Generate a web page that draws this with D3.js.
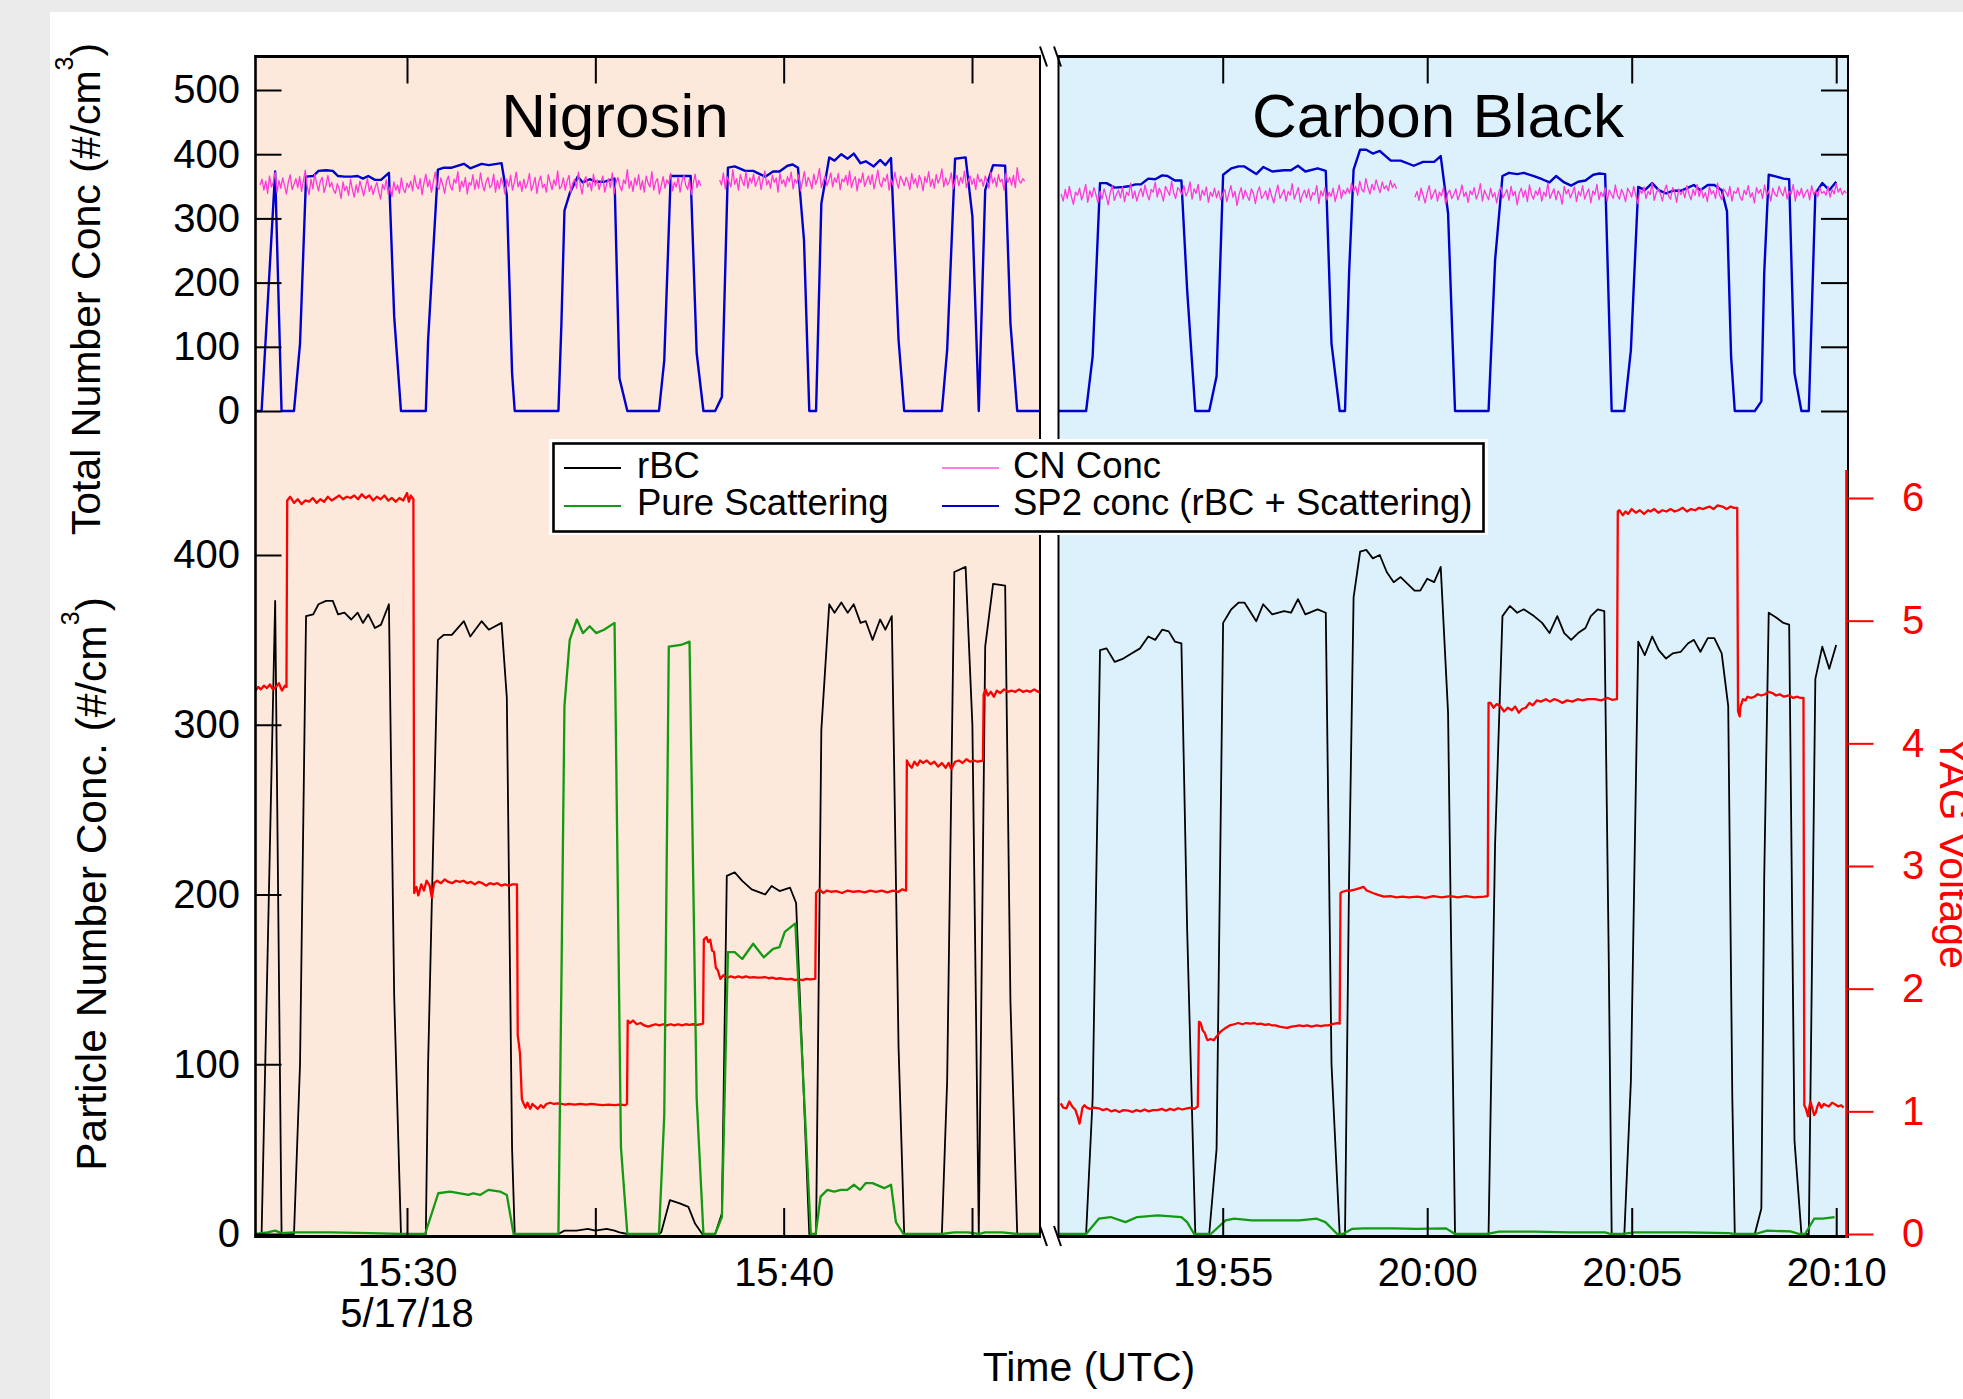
<!DOCTYPE html>
<html><head><meta charset="utf-8">
<script src="https://cdn.jsdelivr.net/npm/d3@7"></script>
<style>
html,body{margin:0;padding:0;background:#ebebeb;overflow:hidden;}
svg{display:block;}
text{font-family:"Liberation Sans",Arial,Helvetica,sans-serif;}
</style></head><body>
<svg id="chart" width="1963" height="1399"></svg>
<script>
// ---------- DATA (time = minutes after the hour: Nigrosin 15:xx, Carbon Black 19:xx) ----------
const nigSp2 = [[25.98,0],[26.14,0],[26.50,373],[26.67,0],[27.00,0],[27.16,105],[27.32,365],[27.51,366],[27.65,374],[27.85,375],[28.03,374],[28.17,366],[28.34,365],[28.52,365],[28.69,366],[28.83,362],[28.97,366],[29.15,360],[29.31,360],[29.52,371],[29.66,147],[29.84,0],[30.50,0],[30.56,110],[30.82,376],[30.98,379],[31.19,379],[31.51,385],[31.68,378],[31.98,385],[32.17,383],[32.51,386],[32.65,336],[32.79,59],[32.86,0],[34.02,0],[34.10,137],[34.18,312],[34.32,339],[34.53,365],[34.67,356],[34.85,361],[35.02,357],[35.23,357],[35.51,362],[35.64,51],[35.85,0],[36.69,0],[36.83,79],[37.00,366],[37.53,366],[37.69,90],[37.87,0],[38.18,0],[38.36,22],[38.52,379],[38.70,381],[38.98,374],[39.19,374],[39.51,365],[39.72,373],[39.89,373],[40.10,382],[40.24,384],[40.38,379],[40.54,266],[40.68,0],[40.86,0],[41.00,323],[41.21,395],[41.35,390],[41.53,400],[41.70,393],[41.86,401],[42.04,386],[42.18,389],[42.39,381],[42.56,391],[42.70,383],[42.85,394],[43.05,111],[43.20,0],[44.20,0],[44.34,95],[44.55,393],[44.83,395],[45.01,303],[45.18,0],[45.35,344],[45.56,383],[45.88,382],[46.02,137],[46.20,0],[46.88,0]];
const nigRbc = [[25.98,0],[26.14,0],[26.50,373],[26.67,0],[27.00,0],[27.16,100],[27.32,364],[27.51,365],[27.65,371],[27.85,373],[28.03,373],[28.17,365],[28.34,366],[28.52,362],[28.69,366],[28.83,360],[28.97,365],[29.15,357],[29.31,359],[29.52,371],[29.66,140],[29.84,0],[30.50,0],[30.56,100],[30.82,350],[30.98,353],[31.19,353],[31.51,361],[31.68,352],[31.98,361],[32.17,356],[32.51,360],[32.65,316],[32.79,50],[32.86,0],[34.02,0],[34.18,2],[34.50,2],[34.80,3],[35.00,2],[35.30,3],[35.51,2],[35.64,1],[35.85,0],[36.69,0],[36.75,1],[36.98,20],[37.24,18],[37.47,16],[37.65,6],[37.84,0],[38.18,0],[38.36,12],[38.49,211],[38.70,213],[38.90,208],[39.15,203],[39.51,200],[39.68,205],[39.89,202],[40.17,204],[40.33,195],[40.54,79],[40.68,0],[40.86,0],[41.00,297],[41.21,371],[41.35,366],[41.53,372],[41.70,366],[41.86,371],[42.04,360],[42.18,361],[42.36,350],[42.56,362],[42.70,356],[42.87,364],[43.05,110],[43.20,0],[44.20,0],[44.34,90],[44.53,390],[44.83,393],[45.01,300],[45.18,0],[45.35,346],[45.56,383],[45.88,382],[46.02,137],[46.20,0],[46.88,0]];
const nigScat = [[25.98,0],[26.30,1],[26.50,2],[26.67,0.5],[27.00,1],[28.00,1],[29.00,0.5],[29.84,0],[30.48,0],[30.83,24],[31.14,25],[31.41,24],[31.63,23],[31.76,24],[31.94,23],[32.16,26],[32.47,25],[32.65,23],[32.83,0],[34.02,0],[34.10,150],[34.18,311],[34.32,350],[34.51,362],[34.67,354],[34.85,358],[35.02,354],[35.23,356],[35.51,360],[35.68,51],[35.85,0],[36.69,0],[36.83,70],[36.95,346],[37.27,347],[37.50,349],[37.69,80],[37.87,0],[38.18,0],[38.36,10],[38.52,166],[38.70,166],[38.90,162],[39.19,171],[39.47,163],[39.72,168],[39.89,169],[40.03,178],[40.31,183],[40.50,100],[40.72,0],[40.85,0],[40.98,22],[41.16,26],[41.34,25],[41.52,26],[41.69,26],[41.87,29],[42.03,26],[42.18,30],[42.36,30],[42.67,27],[42.85,29],[42.98,7],[43.18,0],[44.20,0],[44.53,1],[44.90,1],[45.18,0],[45.35,1],[45.80,1],[46.20,0],[46.88,0]];
const nigYag = [[25.98,4.43],[26.05,4.46],[26.12,4.44],[26.20,4.47],[26.28,4.45],[26.36,4.48],[26.44,4.44],[26.52,4.46],[26.60,4.49],[26.68,4.43],[26.76,4.47],[26.80,4.46],[26.82,5.98],[26.90,6.01],[27.00,5.96],[27.10,5.99],[27.20,5.95],[27.30,5.98],[27.40,5.97],[27.50,6.00],[27.60,5.96],[27.70,5.99],[27.80,5.97],[27.90,6.01],[28.00,5.98],[28.10,6.00],[28.20,6.02],[28.30,5.99],[28.40,6.01],[28.50,6.00],[28.60,6.02],[28.70,5.99],[28.80,6.03],[28.90,6.00],[29.00,6.02],[29.10,5.98],[29.20,6.01],[29.30,5.99],[29.40,6.02],[29.50,5.98],[29.60,6.00],[29.70,5.97],[29.80,6.00],[29.90,5.98],[30.00,6.04],[30.05,5.97],[30.10,6.02],[30.17,5.99],[30.19,2.78],[30.25,2.83],[30.30,2.76],[30.38,2.85],[30.45,2.80],[30.52,2.88],[30.60,2.84],[30.66,2.74],[30.72,2.86],[30.80,2.88],[30.90,2.86],[31.00,2.89],[31.10,2.87],[31.20,2.86],[31.30,2.88],[31.40,2.87],[31.50,2.88],[31.60,2.86],[31.70,2.87],[31.80,2.85],[31.90,2.87],[32.00,2.86],[32.10,2.84],[32.20,2.86],[32.30,2.85],[32.40,2.86],[32.50,2.84],[32.60,2.85],[32.70,2.84],[32.80,2.85],[32.92,2.85],[32.94,1.62],[32.97,1.55],[33.00,1.47],[33.05,1.10],[33.10,1.06],[33.15,1.03],[33.20,1.07],[33.27,1.02],[33.33,1.06],[33.40,1.04],[33.47,1.02],[33.55,1.05],[33.62,1.03],[33.70,1.06],[33.80,1.07],[33.90,1.06],[34.00,1.065],[34.10,1.06],[34.20,1.055],[34.30,1.06],[34.45,1.055],[34.60,1.06],[34.75,1.055],[34.90,1.06],[35.05,1.055],[35.20,1.05],[35.35,1.055],[35.50,1.05],[35.65,1.055],[35.80,1.05],[35.84,1.06],[35.86,1.74],[35.92,1.72],[36.00,1.74],[36.10,1.71],[36.20,1.72],[36.30,1.70],[36.40,1.69],[36.50,1.70],[36.60,1.71],[36.70,1.70],[36.80,1.71],[36.90,1.70],[37.00,1.71],[37.10,1.70],[37.20,1.71],[37.30,1.70],[37.40,1.71],[37.50,1.705],[37.60,1.71],[37.70,1.705],[37.80,1.71],[37.86,1.715],[37.88,2.40],[37.95,2.42],[38.00,2.38],[38.05,2.40],[38.10,2.31],[38.15,2.30],[38.20,2.17],[38.25,2.15],[38.32,2.08],[38.40,2.11],[38.50,2.09],[38.60,2.10],[38.70,2.09],[38.80,2.10],[38.90,2.09],[39.00,2.10],[39.10,2.09],[39.20,2.095],[39.30,2.09],[39.40,2.09],[39.50,2.095],[39.60,2.085],[39.70,2.09],[39.80,2.08],[39.90,2.085],[40.00,2.08],[40.10,2.075],[40.20,2.08],[40.30,2.07],[40.40,2.075],[40.50,2.07],[40.60,2.08],[40.70,2.075],[40.84,2.08],[40.86,2.78],[40.95,2.81],[41.05,2.78],[41.15,2.80],[41.25,2.79],[41.40,2.795],[41.55,2.78],[41.70,2.80],[41.85,2.79],[42.00,2.795],[42.15,2.785],[42.30,2.80],[42.45,2.79],[42.60,2.80],[42.75,2.785],[42.90,2.80],[43.05,2.79],[43.15,2.81],[43.25,2.80],[43.27,3.86],[43.32,3.83],[43.40,3.80],[43.47,3.85],[43.55,3.82],[43.62,3.86],[43.70,3.84],[43.80,3.86],[43.90,3.83],[44.00,3.85],[44.10,3.81],[44.20,3.84],[44.30,3.80],[44.38,3.84],[44.45,3.79],[44.55,3.85],[44.65,3.86],[44.75,3.84],[44.85,3.87],[44.95,3.85],[45.05,3.86],[45.15,3.85],[45.29,3.86],[45.31,4.40],[45.36,4.44],[45.42,4.39],[45.50,4.42],[45.58,4.38],[45.66,4.43],[45.75,4.41],[45.85,4.44],[45.95,4.42],[46.05,4.43],[46.15,4.42],[46.25,4.44],[46.35,4.42],[46.45,4.43],[46.55,4.42],[46.65,4.44],[46.75,4.42],[46.85,4.43]];
// CN concentration, sampled every 0.05 min (null = no data)
const nigCnStart = 26.1;
const nigCn = [
352,361,344,358,339,366,349,356,372,341,359,347,363,351,338,357,368,345,353,362,
348,365,342,359,375,350,337,361,346,369,355,343,358,364,340,352,367,349,356,344,
339,354,346,331,357,343,350,336,361,345,333,352,340,358,347,335,349,362,342,351,
337,348,356,341,330,353,345,360,338,349,334,357,344,352,339,363,346,340,355,348,
358,343,367,351,346,362,337,355,369,349,360,341,357,372,350,345,363,352,339,358,
366,350,344,361,355,373,342,358,349,364,338,356,352,368,345,360,347,371,353,343,
357,364,348,352,369,341,359,346,363,354,338,361,350,367,344,356,372,349,358,342,
361,347,355,370,343,352,364,339,357,366,348,353,341,368,356,345,360,351,374,346,
350,363,344,358,367,340,355,361,347,372,352,338,359,365,349,356,343,369,351,360,
345,357,366,341,353,362,348,371,339,356,364,350,343,360,354,376,347,358,342,363,
352,368,345,359,341,366,355,349,373,344,357,362,338,351,365,347,360,354,370,343,
356,349,364,341,358,367,352,345,361,337,355,369,348,359,351,
null,null,null,null,null,null,null,null,null,
360,352,371,346,365,357,349,376,353,362,344,368,358,351,373,347,363,355,369,350,
358,366,345,361,374,352,359,347,367,356,363,341,370,354,360,349,365,357,372,346,
361,355,368,343,359,373,350,364,357,346,369,353,362,378,348,358,366,351,360,371,
349,363,356,370,345,361,357,367,352,374,348,359,365,343,362,356,371,350,358,366,
353,368,346,360,375,355,349,363,358,369,344,361,352,372,357,347,366,359,351,364,
357,345,370,354,362,348,367,359,343,365,356,373,350,361,347,368,355,362,377,349,
363,352,358,371,346,360,367,351,364,355,374,348,359,366,353,362,345,369,357,361,
350,366,358,347,372,355,363,349,368,357,361,344,370,356,364,352,367,348,379,359,
355,362,358];

const cbSp2 = [[50.98,0],[51.66,0],[51.82,85],[52.00,355],[52.16,355],[52.36,348],[52.57,349],[52.70,350],[52.87,353],[53.00,353],[53.18,362],[53.35,361],[53.52,367],[53.65,366],[53.83,359],[53.99,359],[54.13,189],[54.33,0],[54.67,0],[54.85,54],[55.01,368],[55.21,378],[55.39,381],[55.53,381],[55.82,369],[55.99,380],[56.21,373],[56.50,375],[56.67,375],[56.84,382],[57.02,373],[57.32,378],[57.52,374],[57.66,105],[57.86,0],[57.99,0],[58.09,215],[58.20,376],[58.36,407],[58.51,407],[58.67,401],[58.84,405],[59.11,390],[59.35,390],[59.67,382],[59.90,388],[60.17,388],[60.33,397],[60.51,308],[60.68,0],[61.50,0],[61.66,235],[61.84,366],[62.00,371],[62.20,369],[62.36,371],[62.61,366],[62.81,361],[62.99,356],[63.15,366],[63.35,356],[63.52,351],[63.69,357],[63.87,359],[64.06,368],[64.21,370],[64.35,369],[64.44,163],[64.51,0],[64.82,0],[64.98,95],[65.16,349],[65.32,344],[65.50,355],[65.66,344],[65.84,339],[66.00,343],[66.20,343],[66.38,348],[66.52,352],[66.68,344],[66.86,352],[67.02,352],[67.20,344],[67.33,311],[67.43,85],[67.52,0],[68.01,0],[68.17,15],[68.24,215],[68.35,368],[68.54,365],[68.71,362],[68.85,361],[68.98,59],[69.15,0],[69.33,0],[69.49,339],[69.66,355],[69.83,344],[70.00,357]];
const cbRbc = [[50.98,0],[51.66,0],[51.82,80],[52.00,344],[52.16,345],[52.36,337],[52.57,339],[52.77,342],[52.98,345],[53.18,352],[53.35,350],[53.52,356],[53.68,355],[53.83,349],[53.99,348],[54.13,180],[54.33,0],[54.67,0],[54.85,50],[55.01,360],[55.21,368],[55.39,372],[55.53,372],[55.69,366],[55.82,361],[55.99,371],[56.21,365],[56.50,367],[56.67,366],[56.84,374],[57.02,365],[57.32,368],[57.52,366],[57.66,100],[57.86,0],[57.99,0],[58.09,210],[58.20,375],[58.36,402],[58.51,403],[58.67,398],[58.84,400],[59.01,390],[59.18,384],[59.35,387],[59.52,383],[59.69,379],[59.83,379],[60.00,386],[60.17,384],[60.33,393],[60.51,307],[60.68,0],[61.50,0],[61.66,230],[61.84,364],[62.02,370],[62.20,366],[62.36,368],[62.61,364],[62.81,360],[62.99,354],[63.18,364],[63.35,354],[63.52,350],[63.69,354],[63.87,357],[64.00,364],[64.17,368],[64.33,367],[64.44,160],[64.51,0],[64.82,0],[64.98,90],[65.16,349],[65.32,341],[65.50,352],[65.66,344],[65.84,339],[66.00,342],[66.20,343],[66.38,348],[66.52,350],[66.68,343],[66.86,351],[67.02,351],[67.20,342],[67.36,311],[67.46,80],[67.52,0],[68.01,0],[68.17,15],[68.24,210],[68.35,366],[68.54,363],[68.71,360],[68.85,359],[68.98,55],[69.15,0],[69.33,0],[69.49,327],[69.66,346],[69.83,333],[70.00,347]];
const cbScat = [[50.98,0],[51.66,0],[51.97,9],[52.26,10],[52.62,7],[52.91,10],[53.41,11],[53.99,10],[54.13,7],[54.30,0],[54.71,0],[55.07,8],[55.28,9],[55.71,8],[56.29,8],[56.87,8],[57.30,9],[57.51,7],[57.80,0],[57.94,0],[58.16,3],[58.45,3.3],[59.17,3.3],[59.74,3],[60.46,3.3],[60.68,0],[61.47,0],[61.76,1.4],[62.62,1.4],[63.48,1],[64.35,1],[64.49,0],[64.78,0],[65.07,1],[66.36,1],[67.37,0.5],[67.51,0],[68.02,0],[68.31,2],[68.88,1.5],[69.10,0],[69.24,0],[69.46,9],[69.67,9],[69.96,10]];
const cbYag = [[51.04,1.065],[51.10,1.03],[51.18,1.025],[51.25,1.08],[51.32,1.04],[51.40,1.01],[51.46,0.95],[51.50,0.90],[51.54,0.97],[51.57,1.03],[51.62,1.05],[51.68,1.03],[51.75,1.02],[51.85,1.03],[51.97,1.025],[52.07,1.01],[52.17,1.02],[52.27,1.00],[52.37,1.01],[52.47,0.995],[52.57,1.01],[52.69,1.005],[52.79,0.995],[52.89,1.01],[52.99,1.00],[53.09,1.015],[53.19,1.00],[53.29,1.01],[53.41,1.01],[53.51,1.02],[53.61,1.005],[53.71,1.02],[53.81,1.01],[53.91,1.025],[54.01,1.015],[54.13,1.025],[54.23,1.03],[54.31,1.02],[54.39,1.04],[54.42,1.73],[54.46,1.72],[54.51,1.66],[54.56,1.64],[54.60,1.60],[54.63,1.58],[54.70,1.59],[54.78,1.58],[54.85,1.61],[54.95,1.65],[55.07,1.68],[55.17,1.70],[55.28,1.71],[55.38,1.72],[55.48,1.71],[55.57,1.72],[55.67,1.715],[55.77,1.72],[55.85,1.71],[55.93,1.715],[56.03,1.705],[56.13,1.71],[56.21,1.70],[56.29,1.70],[56.39,1.69],[56.49,1.685],[56.58,1.68],[56.68,1.69],[56.78,1.695],[56.87,1.70],[56.97,1.695],[57.07,1.70],[57.17,1.69],[57.30,1.70],[57.40,1.695],[57.50,1.70],[57.58,1.70],[57.68,1.71],[57.80,1.72],[57.86,1.715],[57.88,2.78],[57.93,2.79],[58.03,2.80],[58.13,2.80],[58.25,2.81],[58.35,2.82],[58.44,2.83],[58.52,2.80],[58.60,2.79],[58.67,2.78],[58.80,2.765],[58.94,2.75],[59.10,2.755],[59.25,2.745],[59.40,2.75],[59.55,2.745],[59.76,2.75],[59.95,2.74],[60.15,2.755],[60.35,2.745],[60.57,2.755],[60.75,2.745],[60.95,2.755],[61.15,2.745],[61.39,2.75],[61.48,2.755],[61.50,4.33],[61.55,4.33],[61.62,4.29],[61.70,4.32],[61.79,4.30],[61.88,4.26],[61.97,4.29],[62.07,4.27],[62.15,4.30],[62.24,4.25],[62.32,4.28],[62.41,4.29],[62.50,4.33],[62.58,4.31],[62.68,4.35],[62.78,4.34],[62.90,4.36],[63.00,4.34],[63.10,4.36],[63.20,4.35],[63.30,4.33],[63.42,4.35],[63.55,4.34],[63.68,4.36],[63.80,4.35],[63.92,4.36],[64.10,4.36],[64.25,4.35],[64.40,4.37],[64.52,4.355],[64.64,4.36],[64.66,5.89],[64.70,5.90],[64.78,5.86],[64.85,5.89],[64.91,5.87],[65.00,5.91],[65.10,5.88],[65.20,5.90],[65.30,5.87],[65.40,5.90],[65.46,5.89],[65.55,5.91],[65.65,5.88],[65.75,5.90],[65.85,5.89],[65.95,5.91],[66.05,5.89],[66.14,5.90],[66.25,5.92],[66.35,5.89],[66.45,5.91],[66.55,5.90],[66.65,5.92],[66.75,5.91],[66.81,5.92],[66.90,5.93],[67.00,5.91],[67.10,5.94],[67.22,5.93],[67.32,5.91],[67.42,5.93],[67.50,5.92],[67.58,5.92],[67.60,4.26],[67.64,4.22],[67.66,4.30],[67.72,4.36],[67.78,4.35],[67.83,4.38],[67.92,4.37],[68.00,4.38],[68.08,4.40],[68.17,4.39],[68.26,4.40],[68.35,4.42],[68.44,4.41],[68.53,4.39],[68.62,4.40],[68.72,4.38],[68.85,4.39],[68.95,4.37],[69.05,4.38],[69.12,4.37],[69.20,4.37],[69.22,1.05],[69.26,1.02],[69.31,0.96],[69.34,1.03],[69.37,1.08],[69.42,1.02],[69.46,0.97],[69.50,0.99],[69.54,1.04],[69.58,1.07],[69.64,1.03],[69.70,1.06],[69.75,1.05],[69.82,1.04],[69.90,1.07],[69.96,1.06],[70.05,1.04],[70.12,1.05],[70.18,1.03]];
const cbCnStart = 51.05;
const cbCn = [
338,327,345,331,350,334,322,341,336,347,329,339,353,325,343,333,348,337,324,342,
330,346,335,321,340,351,328,337,344,332,349,326,341,336,355,331,343,327,339,347,
334,352,338,329,345,341,356,333,347,339,327,350,343,336,358,340,331,348,344,337,
351,335,342,357,330,346,339,353,328,344,336,349,325,341,334,347,332,343,329,338,
345,326,339,351,333,342,320,337,348,330,344,335,328,346,339,323,341,349,331,336,
343,329,347,334,324,340,352,331,338,345,327,342,336,354,330,339,348,325,337,344,
332,346,328,340,337,351,323,343,335,348,329,341,334,347,326,339,352,331,344,338,
347,339,355,342,350,336,358,345,341,362,348,338,353,344,360,349,340,357,346,351,
343,359,348,354,346,
null,null,null,null,null,null,null,null,
333,342,328,347,336,324,340,351,330,338,345,327,341,335,349,322,339,344,331,337,
346,329,338,352,334,341,325,343,337,348,330,339,354,327,344,336,329,347,333,340,
324,341,349,332,338,345,328,350,335,342,321,339,347,333,344,326,352,337,330,343,
336,348,327,341,334,355,331,339,346,329,343,337,322,350,338,345,332,340,349,326,
342,335,351,330,339,346,324,343,337,353,329,341,334,348,327,344,338,331,352,336,
330,345,338,326,347,341,333,350,336,323,344,339,349,331,342,337,355,328,340,346,
339,327,343,352,335,330,348,341,325,346,337,344,332,351,338,329,345,336,353,334,
347,332,340,326,349,338,343,331,355,336,329,346,341,334,350,327,342,339,348,333,
328,344,337,351,333,340,324,348,339,345,331,352,336,343,327,347,338,334,350,341,
335,349,330,342,338,353,327,344,336,347,332,340,345,329,351,337,343,334,348,339,
342,336,350,333,345,338,354,341,347,337,343,339];
const cnStep = 0.05;

const topTicks = [0,100,200,300,400,500];
const lowTicks = [0,100,200,300,400];
const yagTicks = [0,1,2,3,4,5,6];
const panelNames = ["Nigrosin","Carbon Black"];
const legendLabels = ["rBC","Pure Scattering","CN Conc","SP2 conc (rBC + Scattering)"];
const dateLabel = "5/17/18";

// ---------- STYLE ----------
const C = {rbc:"#000000", scat:"#129a12", cn:"#ff38d6", cnLeg:"#ff7ee6", sp2:"#0000cc", yag:"#ff0000"};
const FONT = '"Liberation Sans", Arial, Helvetica, sans-serif';

const svg = d3.select("#chart");
svg.append("rect").attr("x",50).attr("y",12).attr("width",1913).attr("height",1387).attr("fill","#fff");

const toDate = (h, m) => new Date(2018, 4, 17, h, 0, 0, Math.round(m*60000));
const fmt = d3.timeFormat("%H:%M");

const Y0 = 56.5, YB = 1236;
const yTop = d3.scaleLinear().domain([0,500]).range([411,90]);
const yLow = d3.scaleLinear().domain([0,400]).range([1234,555]);
const yYag = d3.scaleLinear().domain([0,6]).range([1234,498]);

const panels = [
  {name:panelNames[0], hour:15, x:d3.scaleTime().domain([toDate(15,25.978), toDate(15,46.805)]).range([255.5,1040]),
   bg:"#fde8dc", tx:615, sp2:nigSp2, rbc:nigRbc, scat:nigScat, yag:nigYag, cn:nigCn.map((v,i)=>[nigCnStart+i*cnStep, v]),
   fmt:d=> d.getMinutes()%10===0 ? fmt(d) : ""},
  {name:panelNames[1], hour:19, x:d3.scaleTime().domain([toDate(19,50.985), toDate(19,70.264)]).range([1058.5,1847]),
   bg:"#ddf1fc", tx:1438, sp2:cbSp2, rbc:cbRbc, scat:cbScat, yag:cbYag, cn:cbCn.map((v,i)=>[cbCnStart+i*cnStep, v]),
   fmt:d=> fmt(d)}
];

const defs = svg.append("defs");

panels.forEach((p,pi)=>{
  const [x0,x1] = p.x.range();
  svg.append("rect").attr("x",x0).attr("y",Y0).attr("width",x1-x0).attr("height",YB-Y0).attr("fill",p.bg);
  defs.append("clipPath").attr("id","clip"+pi).append("rect")
    .attr("x",x0).attr("y",Y0).attr("width",x1-x0).attr("height",YB-Y0-1);
  const g = svg.append("g").attr("clip-path",`url(#clip${pi})`);
  const line = y => d3.line().defined(d=>d[1]!=null).x(d=>p.x(toDate(p.hour,d[0]))).y(d=>y(d[1]));
  const draw = (data,y,color,w) => g.append("path").datum(data).attr("d",line(y))
      .attr("fill","none").attr("stroke",color).attr("stroke-width",w).attr("stroke-linejoin","round");
  draw(p.sp2, yTop, C.sp2, 2.4);
  draw(p.cn, yTop, C.cn, 1.3);
  draw(p.rbc, yLow, C.rbc, 1.8);
  draw(p.yag, yYag, C.yag, 2.3);
  draw(p.scat, yLow, C.scat, 2.3);

  svg.append("text").attr("x",p.tx).attr("y",137).attr("text-anchor","middle")
    .attr("font-size",62).attr("font-family",FONT).text(p.name);

  svg.append("line").attr("x1",x0-1).attr("x2",x1+1).attr("y1",Y0).attr("y2",Y0).attr("stroke","#000").attr("stroke-width",3);
  svg.append("line").attr("x1",x0-1).attr("x2",x1+1).attr("y1",YB+0.5).attr("y2",YB+0.5).attr("stroke","#000").attr("stroke-width",3);

  const ax = svg.append("g").attr("transform",`translate(0,${YB-1})`)
    .call(d3.axisBottom(p.x).ticks(d3.timeMinute.every(5)).tickSizeInner(-27).tickSizeOuter(0).tickPadding(22.6).tickFormat(p.fmt));
  const at = svg.append("g").attr("transform",`translate(0,${Y0})`)
    .call(d3.axisTop(p.x).ticks(d3.timeMinute.every(5)).tickSizeInner(-27).tickSizeOuter(0).tickFormat(""));
  [ax,at].forEach(a=>{a.select(".domain").remove(); a.selectAll(".tick line").attr("stroke","#000").attr("stroke-width",2);
    a.selectAll("text").attr("font-size",40).attr("font-family",FONT).attr("fill","#000");});
});

const vline = (x,y1,y2,c,w)=>svg.append("line").attr("x1",x).attr("x2",x).attr("y1",y1).attr("y2",y2).attr("stroke",c).attr("stroke-width",w);
vline(255.5,Y0-1.5,YB+2,"#000",2.6);
vline(1040,Y0,YB+2,"#000",2);
vline(1058.5,Y0,YB+2,"#000",2);
vline(1848,Y0-1.5,YB+2,"#000",2);
vline(1846.5,470,YB+2,C.yag,2.6);

[Y0, YB].forEach(yy=>{
  [[1040,1047],[1054,1061]].forEach(([a,b])=>{
    svg.append("line").attr("x1",a).attr("y1",yy-10).attr("x2",b).attr("y2",yy+10).attr("stroke","#000").attr("stroke-width",2);
  });
});

function styleAxis(a,color){
  a.select(".domain").remove();
  a.selectAll(".tick line").attr("stroke",color).attr("stroke-width",2);
  a.selectAll("text").attr("font-size",40).attr("font-family",FONT).attr("fill",color);
}
styleAxis(svg.append("g").attr("transform","translate(255.5,0)")
  .call(d3.axisLeft(yTop).tickValues(topTicks).tickSizeInner(-26).tickSizeOuter(0).tickPadding(15.5)),"#000");
styleAxis(svg.append("g").attr("transform","translate(255.5,0)")
  .call(d3.axisLeft(yLow).tickValues(lowTicks).tickSizeInner(-26).tickSizeOuter(0).tickPadding(15.5)),"#000");
styleAxis(svg.append("g").attr("transform","translate(1848,0)")
  .call(d3.axisRight(yTop).tickValues(topTicks).tickSizeInner(-27).tickSizeOuter(0).tickFormat("")),"#000");
styleAxis(svg.append("g").attr("transform","translate(1846.5,0)")
  .call(d3.axisRight(yYag).tickValues(yagTicks).tickSizeInner(27).tickSizeOuter(0).tickPadding(28.5).tickFormat(d3.format("d"))),C.yag);

svg.append("text").attr("x",panels[0].x(toDate(15,30))).attr("y",1327).attr("text-anchor","middle")
  .attr("font-size",40).attr("font-family",FONT).text(dateLabel);
svg.append("text").attr("x",1089).attr("y",1381).attr("text-anchor","middle")
  .attr("font-size",41).attr("font-family",FONT).text("Time (UTC)");

function yTitle(x,y,main,fs){
  const t = svg.append("text").attr("transform",`translate(${x},${y}) rotate(-90)`).attr("text-anchor","middle")
    .attr("font-size",fs).attr("font-family",FONT);
  t.append("tspan").text(main);
  t.append("tspan").attr("font-size",25).attr("dy",-27).text("3");
  t.append("tspan").attr("dy",27).text(")");
}
yTitle(100,289,"Total Number Conc (#/cm",41);
yTitle(106,884,"Particle Number Conc. (#/cm",42.5);
svg.append("text").attr("transform","translate(1940,853) rotate(90)").attr("text-anchor","middle")
  .attr("font-size",41).attr("font-family",FONT).attr("fill",C.yag).text("YAG Voltage");

const lg = svg.append("g");
lg.append("rect").attr("x",549).attr("y",439).attr("width",939).attr("height",96).attr("fill","#fff");
lg.append("rect").attr("x",553.5).attr("y",443.5).attr("width",930).attr("height",88).attr("fill","#fff")
  .attr("stroke","#000").attr("stroke-width",2.6);
const legColors = [C.rbc, C.scat, C.cnLeg, C.sp2];
legendLabels.forEach((lab,i)=>{
  const col = Math.floor(i/2), row = i%2;
  const lx = col===0 ? 564 : 942, tx = col===0 ? 637 : 1013;
  const ly = row===0 ? 468 : 506, ty = row===0 ? 478 : 515;
  lg.append("line").attr("x1",lx).attr("x2",lx+57).attr("y1",ly).attr("y2",ly).attr("stroke",legColors[i]).attr("stroke-width",2.2);
  lg.append("text").attr("x",tx).attr("y",ty).attr("font-size",36.5).attr("font-family",FONT).text(lab);
});
</script>
</body></html>
